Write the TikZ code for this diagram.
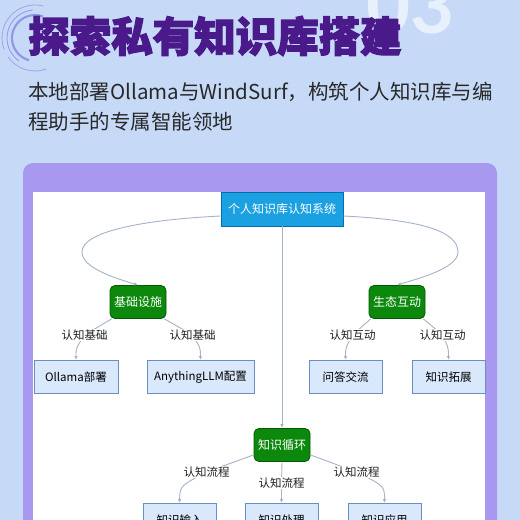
\documentclass[tikz,border=0pt]{standalone}
\usepackage{fontspec}
\newfontfamily\cjk{Noto Sans CJK SC}
\newfontfamily\cjkheavy{Noto Sans CJK SC}[BoldFeatures={FakeBold=3}]
\newfontfamily\numfont{Lato}
\usetikzlibrary{arrows.meta,calc}
\definecolor{bgc}{RGB}{198,218,248}
\definecolor{cardc}{RGB}{168,152,240}
\definecolor{titlec}{RGB}{74,26,138}
\definecolor{subc}{RGB}{40,40,40}
\definecolor{edgec}{RGB}{165,178,200}
\definecolor{leaffill}{RGB}{218,232,252}
\definecolor{leafdraw}{RGB}{108,142,191}
\definecolor{greenfill}{RGB}{12,136,12}
\definecolor{greendraw}{RGB}{0,90,0}
\definecolor{rootfill}{RGB}{27,161,226}
\definecolor{rootdraw}{RGB}{0,110,175}
\definecolor{decoc}{RGB}{140,140,228}
\begin{document}
\begin{tikzpicture}[x=1pt,y=1pt,
  rootbox/.style={draw=rootdraw, fill=rootfill, line width=0.8pt, text=white,
    font=\cjk\fontsize{12}{14}\selectfont, minimum width=122pt, minimum height=34pt, inner sep=0pt},
  hubbox/.style={draw=greendraw, fill=greenfill, rounded corners=5pt, line width=0.8pt, text=white,
    font=\cjk\fontsize{12}{14}\selectfont, minimum width=56pt, minimum height=33pt, inner sep=0pt},
  leafbox/.style={draw=leafdraw, fill=leaffill, line width=1pt, text=black,
    font=\cjk\fontsize{11.5}{14}\selectfont, minimum height=33pt, inner sep=0pt},
  lbl/.style={fill=white, inner sep=1pt, text=black!88, font=\cjk\fontsize{11.5}{13}\selectfont},
  conn/.style={draw=edgec, line width=0.9pt, -{Latex[length=4pt,width=3.5pt]}},
  connline/.style={draw=edgec, line width=0.9pt}]
\useasboundingbox (0,0) rectangle (520,-520);
\clip (0,0) rectangle (520,-520);
\fill[bgc] (0,0) rectangle (520,-520);
% decoration arcs
\draw[decoc, line width=2.2pt, opacity=0.85] (35,-38) ++(70:23) arc (70:255:23);
\draw[decoc, line width=0.9pt, opacity=0.8] (35,-38) ++(95:28) arc (95:235:28);
\draw[decoc, line width=0.8pt, opacity=0.7] (35,-38) ++(75:33) arc (75:200:33);
\draw[decoc, line width=0.8pt, opacity=0.7] (35,-38) ++(215:33) arc (215:290:33);
% big number
\node[anchor=base west, text=white, opacity=0.6, font=\numfont\bfseries\fontsize{76}{76}\selectfont, inner sep=0pt] (num) at (366,-33) {03};
% title and subtitle
\node[anchor=west, text=titlec, font=\cjkheavy\bfseries\fontsize{41.5}{44}\selectfont, inner sep=0pt] (title) at (28,-36) {探索私有知识库搭建};
\node[anchor=west, text=subc, font=\cjk\fontsize{20.5}{24}\selectfont, inner sep=0pt] (sub1) at (28,-92) {本地部署Ollama与WindSurf，构筑个人知识库与编};
\node[anchor=west, text=subc, font=\cjk\fontsize{20.5}{24}\selectfont, inner sep=0pt] (sub2) at (28,-122) {程助手的专属智能领地};
% card
\fill[cardc, rounded corners=10pt] (23,-163) rectangle (497,-580);
\fill[white] (33,-192) rectangle (485,-580);
% nodes
\node[rootbox] (root) at (282,-209) {个人知识库认知系统};
\node[hubbox] (jc) at (138,-302) {基础设施};
\node[hubbox] (st) at (397,-302) {生态互动};
\node[hubbox] (xh) at (282,-445) {知识循环};
\node[leafbox, minimum width=84pt] (ol) at (76,-377) {Ollama部署};
\node[leafbox, minimum width=107pt] (an) at (200.5,-377) {AnythingLLM配置};
\node[leafbox, minimum width=73pt] (wd) at (345.5,-377) {问答交流};
\node[leafbox, minimum width=73pt] (tz) at (448.5,-377) {知识拓展};
\node[leafbox, minimum width=73pt] (sr) at (179.5,-520) {知识输入};
\node[leafbox, minimum width=73pt] (cl) at (281.5,-520) {知识处理};
\node[leafbox, minimum width=73pt] (yy) at (384.5,-520) {知识应用};
% label positions
\coordinate (p1) at (84.5,-335);
\coordinate (p2) at (192.5,-335);
\coordinate (p3) at (352.5,-335);
\coordinate (p4) at (442.5,-335);
\coordinate (p5) at (206.5,-472);
\coordinate (p6) at (281.5,-483);
\coordinate (p7) at (356.5,-472);
% connectors
\draw[conn] ($(root.west)+(0,-7)$) .. controls (140,-220) and (82,-232) .. (82,-252)
  .. controls (82,-268) and (115,-278) .. (jc.north);
\draw[conn] ($(root.east)+(0,-7)$) .. controls (424,-220) and (458,-232) .. (458,-252)
  .. controls (458,-268) and (420,-278) .. (st.north);
\draw[conn] (root.south) -- (xh.north);
\draw[conn] ($(jc.south west)+(2,0)$) -- (p1) .. controls (76,-348) .. (ol.north);
\draw[conn] ($(jc.south east)+(-2,0)$) -- (p2) .. controls (200.5,-348) .. (an.north);
\draw[conn] ($(st.south west)+(2,0)$) -- (p3) .. controls (345.5,-348) .. (wd.north);
\draw[conn] ($(st.south east)+(-2,0)$) -- (p4) .. controls (448.5,-348) .. (tz.north);
\draw[conn] ($(xh.south west)+(0,7)$) -- (p5) .. controls (180,-486) .. (sr.north);
\draw[conn] (xh.south) -- (p6) -- (cl.north);
\draw[conn] ($(xh.south east)+(0,7)$) -- (p7) .. controls (384.5,-486) .. (yy.north);
% labels
\node[lbl] (l1) at (p1) {认知基础};
\node[lbl] (l2) at (p2) {认知基础};
\node[lbl] (l3) at (p3) {认知互动};
\node[lbl] (l4) at (p4) {认知互动};
\node[lbl] (l5) at (p5) {认知流程};
\node[lbl] (l6) at (p6) {认知流程};
\node[lbl] (l7) at (p7) {认知流程};
\end{tikzpicture}
\end{document}
